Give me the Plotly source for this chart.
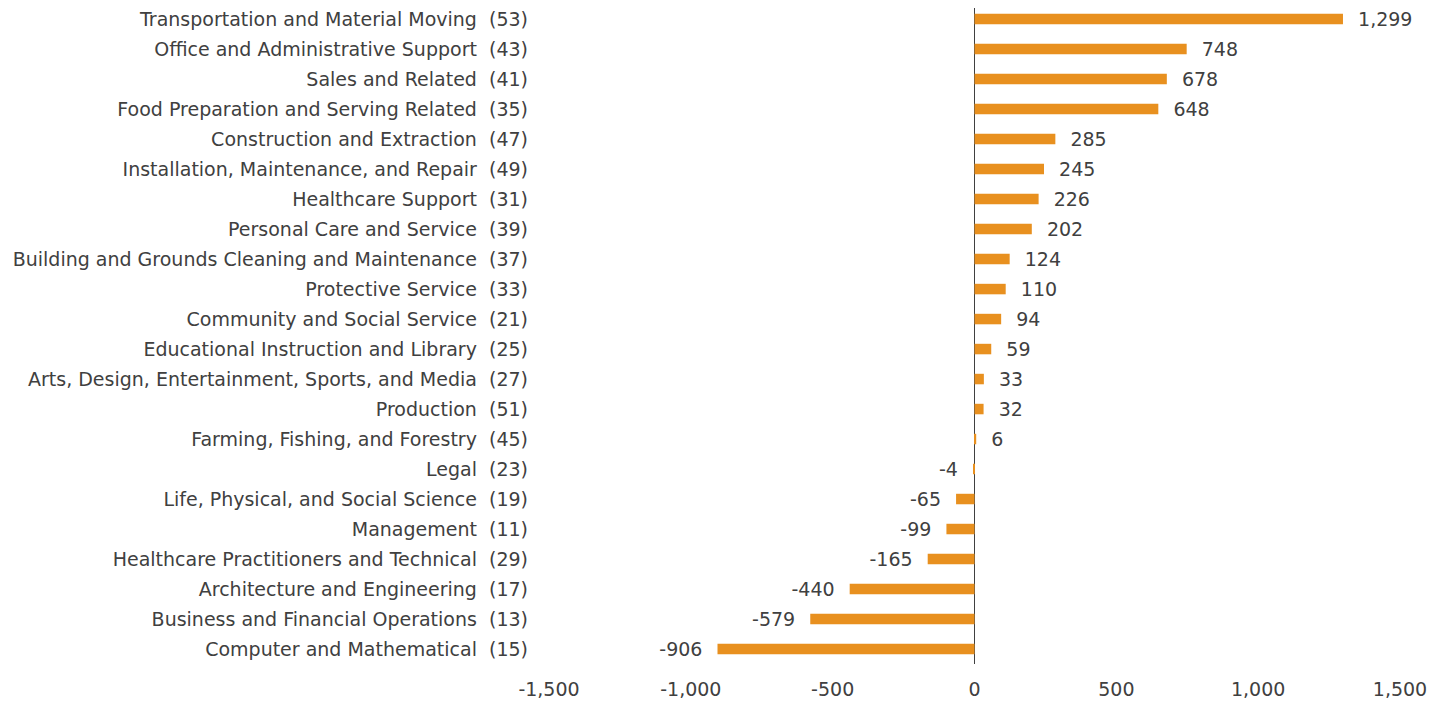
import plotly.graph_objects as go

# Occupation groups (top to bottom) with SOC codes and net change
occupations = [
    'Transportation and Material Moving', 'Office and Administrative Support',
    'Sales and Related', 'Food Preparation and Serving Related',
    'Construction and Extraction', 'Installation, Maintenance, and Repair',
    'Healthcare Support', 'Personal Care and Service',
    'Building and Grounds Cleaning and Maintenance', 'Protective Service',
    'Community and Social Service', 'Educational Instruction and Library',
    'Arts, Design, Entertainment, Sports, and Media', 'Production',
    'Farming, Fishing, and Forestry', 'Legal',
    'Life, Physical, and Social Science', 'Management',
    'Healthcare Practitioners and Technical', 'Architecture and Engineering',
    'Business and Financial Operations', 'Computer and Mathematical',
]
codes = [53, 43, 41, 35, 47, 49, 31, 39, 37, 33, 21, 25, 27, 51, 45, 23, 19, 11, 29, 17, 13, 15]
change = [1299, 748, 678, 648, 285, 245, 226, 202, 124, 110, 94, 59, 33, 32, 6,
          -4, -65, -99, -165, -440, -579, -906]

x_ticks = [-1500, -1000, -500, 0, 500, 1000, 1500]

BAR_COLOR = '#E8901F'
TEXT_COLOR = '#404040'
FONT = 'DejaVu Sans, sans-serif'
FONT_SIZE = 19

labels = [f'{n}  ({c})' for n, c in zip(occupations, codes)]
bar_text = [f'  {v:,}' if v >= 0 else f'{v:,}  ' for v in change]

fig = go.Figure(go.Bar(
    x=change, y=labels, orientation='h',
    marker=dict(color=BAR_COLOR, line=dict(width=0)),
    width=0.35,
    text=bar_text, textposition='outside', constraintext='none',
    textfont=dict(size=FONT_SIZE, color=TEXT_COLOR, family=FONT),
    cliponaxis=False,
))

fig.update_layout(
    width=1447, height=704,
    paper_bgcolor='white', plot_bgcolor='white',
    font=dict(family=FONT, size=FONT_SIZE, color=TEXT_COLOR),
    margin=dict(l=541, r=55, t=0, b=48),
    showlegend=False,
)
fig.update_xaxes(range=[-1500, 1500], tickvals=x_ticks,
                 ticktext=[f'{t:,}' for t in x_ticks],
                 showgrid=False, zeroline=True, zerolinecolor='#404040',
                 zerolinewidth=1, showline=False, ticks='',
                 ticklabelstandoff=12, automargin=False,
                 tickfont=dict(size=FONT_SIZE, color=TEXT_COLOR))
fig.update_yaxes(range=[len(labels) - 0.5, -0.37], showgrid=False, showline=False,
                 ticks='', ticklabelstandoff=20, automargin=False,
                 tickfont=dict(size=FONT_SIZE, color=TEXT_COLOR))

fig.write_html('out.html')
